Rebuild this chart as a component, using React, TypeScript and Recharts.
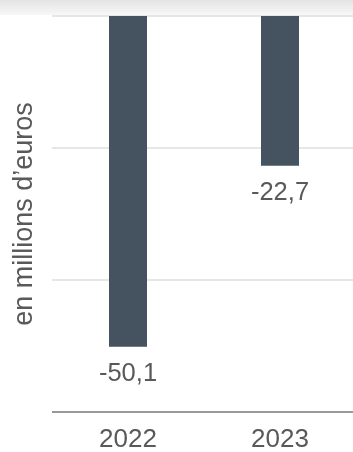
import { BarChart, Bar, XAxis, YAxis, CartesianGrid, LabelList } from 'recharts';

const years = ['2022', '2023'];
const values = [-50.1, -22.7];
const yTicks = [-60, -40, -20, 0];

const data = years.map((year, i) => ({ year, value: values[i] }));

const FONT = '"Liberation Sans", Arial, sans-serif';
const TEXT = '#595959';

// label below the end of each (negative) bar
const renderValue = (props: any) => {
  const { x, y, width, height, value } = props;
  const bottom = Math.max(y, y + height);
  return (
    <text
      x={x + width / 2}
      y={bottom + 25}
      textAnchor="middle"
      dominantBaseline="central"
      fill={TEXT}
      fontSize={25.5}
      fontFamily={FONT}
    >
      {String(value).replace('.', ',')}
    </text>
  );
};

export default function App() {
  return (
    <div style={{ position: 'fixed', left: 0, top: 0, width: 353, height: 452, background: '#fff' }}>
      <div
        style={{
          position: 'absolute',
          left: 0,
          top: 0,
          width: 353,
          height: 15,
          background: 'linear-gradient(#e4e4e4, #f7f7f7)',
        }}
      />
      <div style={{ position: 'absolute', left: 0, top: 0 }}>
        <BarChart
          width={356}
          height={452}
          data={data}
          margin={{ top: 16, right: 0, bottom: 0, left: 0 }}
        >
          <CartesianGrid vertical={false} stroke="#e6e6e6" strokeWidth={2} />
          <XAxis
            dataKey="year"
            height={40}
            axisLine={{ stroke: '#999', strokeWidth: 2 }}
            tickLine={false}
            tick={{ fontSize: 26, fill: TEXT, fontFamily: FONT }}
            tickMargin={11}
          />
          <YAxis
            width={52}
            domain={[-60, 0]}
            ticks={yTicks}
            tick={() => <g />}
            axisLine={false}
            tickLine={false}
            label={{
              value: 'en millions d\u2019euros',
              angle: -90,
              position: 'center',
              dx: -4,
              fontSize: 27,
              fill: TEXT,
              fontFamily: FONT,
            }}
          />
          <Bar dataKey="value" fill="#44535f" barSize={38} isAnimationActive={false}>
            <LabelList dataKey="value" content={renderValue} />
          </Bar>
        </BarChart>
      </div>
    </div>
  );
}
